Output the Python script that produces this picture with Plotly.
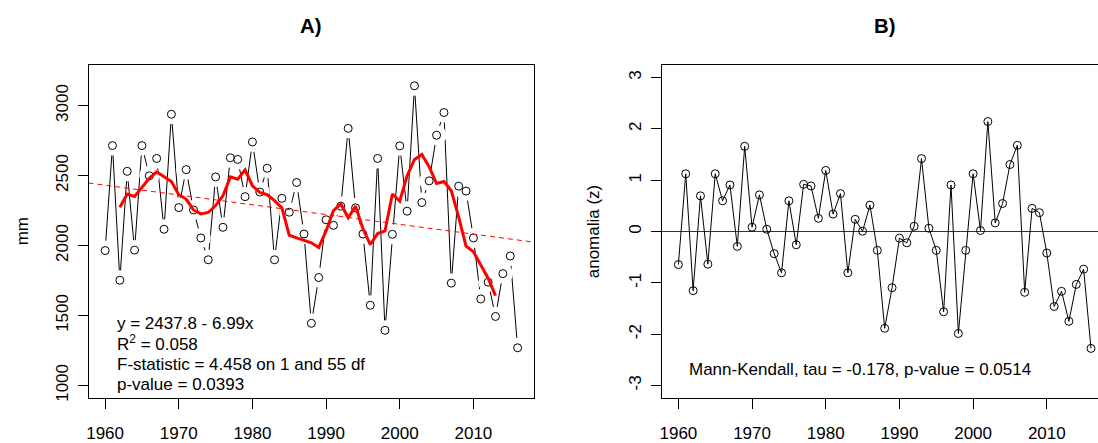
import plotly.graph_objects as go

# ---------------- data ----------------
years = list(range(1960, 2017))
precip_mm = [1964, 2714, 1752, 2530, 1967, 2714, 2498, 2622, 2116, 2938,
             2271, 2542, 2254, 2054, 1898, 2490, 2130, 2627, 2615, 2349,
             2740, 2382, 2552, 1898, 2337, 2238, 2450, 2082, 1444, 1771,
             2184, 2144, 2281, 2837, 2269, 2082, 1573, 2622, 1394, 2080,
             2712, 2245, 3141, 2307, 2462, 2788, 2950, 1731, 2424, 2389,
             2054, 1618, 1738, 1493, 1799, 1925, 1269]
ma_years = list(range(1962, 2014))
ma_mm = [2273, 2368, 2351, 2420, 2481, 2526, 2493, 2457, 2363, 2332,
         2254, 2226, 2236, 2285, 2356, 2490, 2474, 2540, 2427, 2380,
         2363, 2321, 2269, 2073, 2055, 2038, 2019, 1986, 2104, 2250,
         2297, 2198, 2281, 2120, 2007, 2085, 2104, 2368, 2316, 2498,
         2615, 2651, 2561, 2443, 2457, 2391, 2203, 1995, 1955, 1861,
         1766, 1642]
anomaly_z = [-0.645, 1.125, -1.153, 0.695, -0.637, 1.125, 0.598, 0.907, -0.290, 1.660,
             0.083, 0.714, 0.044, -0.432, -0.805, 0.598, -0.259, 0.919, 0.888, 0.257,
             1.190, 0.340, 0.739, -0.805, 0.237, 0.006, 0.514, -0.367, -1.886, -1.095,
             -0.129, -0.220, 0.102, 1.421, 0.064, -0.367, -1.564, 0.907, -1.988, -0.367,
             1.125, 0.019, 2.143, 0.167, 0.546, 1.305, 1.680, -1.185, 0.450, 0.367,
             -0.419, -1.461, -1.166, -1.751, -1.031, -0.734, -2.278]
fit_intercept = 2437.8
fit_slope = -6.99
fit_index_origin = 1959  # index 1 == 1960

year_ticks = [1960, 1970, 1980, 1990, 2000, 2010]
mm_ticks = [1000, 1500, 2000, 2500, 3000]
z_ticks = [-3, -2, -1, 0, 1, 2, 3]
z_tick_labels = ["-3", "-2", "-1", "0", "1", "2", "3"]

stats_lines = ["y = 2437.8 - 6.99x", "R<sup>2</sup> = 0.058",
               "F-statistic = 4.458 on 1 and 55 df", "p-value = 0.0393"]
mk_text = "Mann-Kendall, tau = -0.178, p-value = 0.0514"

# ---------------- layout helpers ----------------
W, H = 1098, 443
FONT = "Liberation Sans, Arial, Helvetica, sans-serif"
FS = 17


def fx(p):
    return p / W


def fy(p):
    return 1 - p / H


xa_range = [1957.75, 2018.27]
xb_range = [1957.75, 2016.95]
ya_range = [912, 3288]
yb_range = [-3.24, 3.24]
y_dom = [fy(402.3), fy(66)]

fit_x = xa_range
fit_y = [fit_intercept + fit_slope * (x - fit_index_origin) for x in fit_x]

fig = go.Figure()

# Panel A: type="b" line with gaps around points
fig.add_trace(go.Scatter(x=years, y=precip_mm, mode="lines",
                         line=dict(color="black", width=1),
                         xaxis="x", yaxis="y", hoverinfo="skip"))
fig.add_trace(go.Scatter(x=years, y=precip_mm, mode="markers",
                         marker=dict(symbol="circle", size=20, color="white",
                                     line=dict(width=0)),
                         xaxis="x", yaxis="y", hoverinfo="skip"))
fig.add_trace(go.Scatter(x=years, y=precip_mm, mode="markers",
                         marker=dict(symbol="circle-open", size=8, color="black",
                                     line=dict(width=1, color="black")),
                         xaxis="x", yaxis="y"))
fig.add_trace(go.Scatter(x=fit_x, y=fit_y, mode="lines",
                         line=dict(color="#FF0000", width=1, dash="5px,4px"),
                         xaxis="x", yaxis="y", hoverinfo="skip"))
fig.add_trace(go.Scatter(x=ma_years, y=ma_mm, mode="lines",
                         line=dict(color="#FF0000", width=3),
                         xaxis="x", yaxis="y"))

# Panel B
fig.add_trace(go.Scatter(x=years, y=anomaly_z, mode="lines+markers",
                         line=dict(color="black", width=1),
                         marker=dict(symbol="circle-open", size=8, color="black",
                                     line=dict(width=1, color="black")),
                         xaxis="x2", yaxis="y2"))

axis_common = dict(showgrid=False, showline=True, linecolor="black", linewidth=1,
                   ticks="outside", ticklen=10, tickcolor="black", tickwidth=1,
                   tickfont=dict(family=FONT, size=FS, color="black"))

fig.update_layout(
    width=W, height=H,
    margin=dict(l=0, r=0, t=0, b=0),
    paper_bgcolor="white", plot_bgcolor="white",
    showlegend=False,
    font=dict(family=FONT, size=FS, color="black"),
    xaxis=dict(domain=[fx(86.7), fx(533.3)], range=xa_range, anchor="y",
               tickmode="array", tickvals=year_ticks, mirror=True,
               zeroline=False, ticklabelstandoff=10, **axis_common),
    yaxis=dict(domain=y_dom, range=ya_range, anchor="x",
               tickmode="array", tickvals=mm_ticks, tickangle=-90, mirror=True,
               zeroline=False, ticklabelstandoff=3, **axis_common),
    xaxis2=dict(domain=[fx(661), 1.0], range=xb_range, anchor="y2",
                tickmode="array", tickvals=year_ticks, mirror=True,
                zeroline=False, ticklabelstandoff=10, **axis_common),
    yaxis2=dict(domain=y_dom, range=yb_range, anchor="x2",
                tickmode="array", tickvals=z_ticks, ticktext=z_tick_labels,
                tickangle=-90, mirror=False,
                zeroline=True, zerolinecolor="#333333", zerolinewidth=1,
                ticklabelstandoff=3, **axis_common),
)

ann = []
ann.append(dict(text="<b>A)</b>", x=fx(310), y=fy(26), font=dict(size=20.4)))
ann.append(dict(text="<b>B)</b>", x=fx(884.5), y=fy(26), font=dict(size=20.4)))
ann.append(dict(text="mm", x=fx(20), y=fy(234), textangle=-90))
ann.append(dict(text="anomalia (z)", x=fx(592), y=fy(234), textangle=-90))
for i, (t, yc) in enumerate(zip(stats_lines, [326.7, 347.3, 368.3, 389.3])):
    ann.append(dict(text=t, x=fx(113.3), y=fy(yc), xanchor="left"))
ann.append(dict(text=mk_text, x=fx(860), y=fy(373.3)))

for a in ann:
    a.setdefault("xanchor", "center")
    a.update(xref="paper", yref="paper", yanchor="middle", showarrow=False)
    f = dict(family=FONT, size=FS, color="black")
    f.update(a.get("font", {}))
    a["font"] = f
fig.update_layout(annotations=ann)

fig.write_html("out.html")
